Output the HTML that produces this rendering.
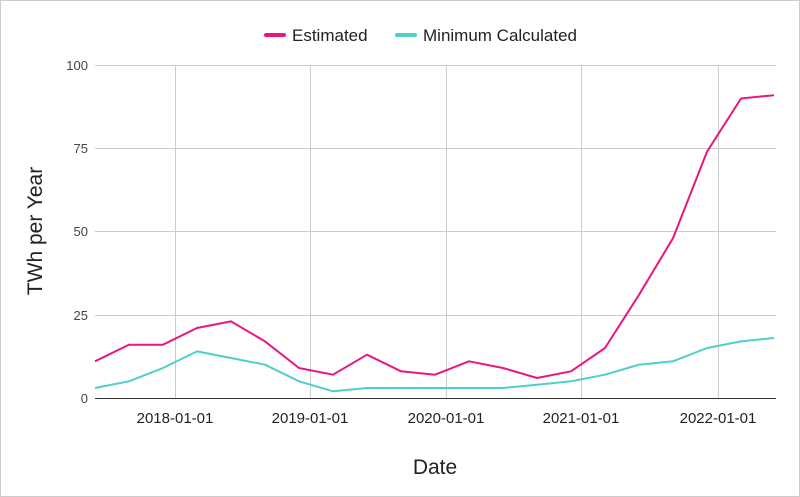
<!DOCTYPE html>
<html><head><meta charset="utf-8"><style>
html,body{margin:0;padding:0;background:#fff;}
svg{display:block;font-family:"Liberation Sans",Arial,sans-serif;}
</style></head><body>
<svg width="800" height="497" viewBox="0 0 800 497" xmlns="http://www.w3.org/2000/svg">
<rect x="0.5" y="0.5" width="799" height="496" fill="#fff" stroke="#cccccc"/>
<g stroke="#cccccc" stroke-width="1">
<line x1="95" y1="65.5" x2="776" y2="65.5"/>
<line x1="95" y1="148.5" x2="776" y2="148.5"/>
<line x1="95" y1="231.5" x2="776" y2="231.5"/>
<line x1="95" y1="315.5" x2="776" y2="315.5"/>
<line x1="175.5" y1="65" x2="175.5" y2="398"/>
<line x1="310.5" y1="65" x2="310.5" y2="398"/>
<line x1="446.5" y1="65" x2="446.5" y2="398"/>
<line x1="581.5" y1="65" x2="581.5" y2="398"/>
<line x1="718.5" y1="65" x2="718.5" y2="398"/>
</g>
<line x1="95" y1="398.5" x2="776" y2="398.5" stroke="#333" stroke-width="1"/>
<g font-size="13" fill="#444" text-anchor="end">
<text x="88" y="70">100</text><text x="88" y="153">75</text><text x="88" y="236">50</text><text x="88" y="320">25</text><text x="88" y="403">0</text>
</g>
<g font-size="15" fill="#222" text-anchor="middle">
<text x="175" y="423">2018-01-01</text><text x="310" y="423">2019-01-01</text><text x="446" y="423">2020-01-01</text><text x="581" y="423">2021-01-01</text><text x="718" y="423">2022-01-01</text>
</g>
<text x="435" y="474" font-size="21" fill="#222" text-anchor="middle">Date</text>
<text transform="translate(42,231) rotate(-90)" font-size="21" fill="#222" text-anchor="middle">TWh per Year</text>
<line x1="266" y1="35" x2="284" y2="35" stroke="#e8177f" stroke-width="4" stroke-linecap="round"/>
<text x="292" y="41" font-size="17" fill="#222">Estimated</text>
<line x1="397" y1="35" x2="415" y2="35" stroke="#4ecfcb" stroke-width="4" stroke-linecap="round"/>
<text x="423" y="41" font-size="17" fill="#222">Minimum Calculated</text>
<polyline fill="none" stroke="#4ecfcb" stroke-width="2" stroke-linejoin="round" points="95,388 129,381.3 163,368 197,351.4 231,358 265,364.7 299,381.3 333,391.3 367,388 401,388 435,388 469,388 503,388 537,384.7 571,381.3 605,374.7 639,364.7 673,361.3 707,348 741,341.4 774,338"/>
<polyline fill="none" stroke="#e8177f" stroke-width="2" stroke-linejoin="round" points="95,361.3 129,344.7 163,344.7 197,328 231,321.4 265,341.4 299,368 333,374.7 367,354.7 401,371.3 435,374.7 469,361.3 503,368 537,378 571,371.3 605,348 639,294.8 673,238.2 707,151.7 741,98.5 774,95.2"/>
</svg>
</body></html>
